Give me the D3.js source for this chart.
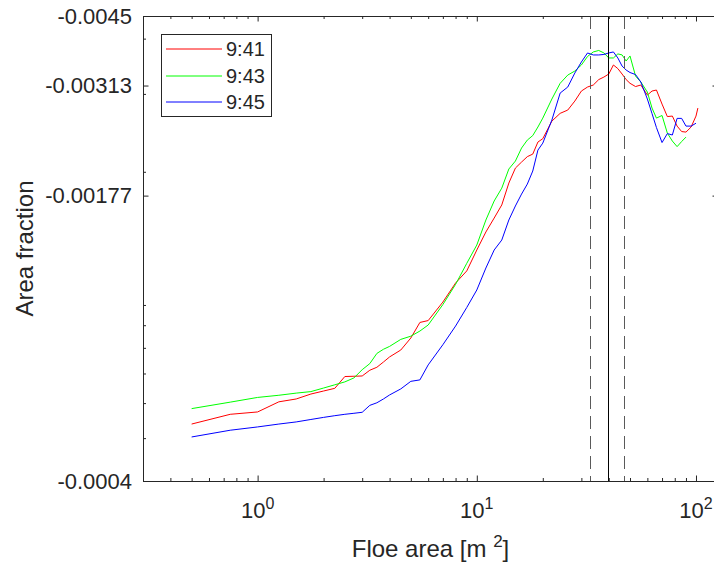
<!DOCTYPE html>
<html>
<head>
<meta charset="utf-8">
<script src="https://cdn.jsdelivr.net/npm/d3@7"></script>
<style>
  body { margin: 0; background: #fff; }
  text { font-family: "Liberation Sans", Arial, Helvetica, sans-serif; fill: #262626; }
</style>
</head>
<body>
<div id="chart"></div>
<script>
// Data
// =================================
const floeArea = [0.5, 0.75, 1, 1.25, 1.5, 1.75, 2, 2.25, 2.5, 2.75,
  3, 3.25, 3.5, 3.75, 4, 4.5, 5, 5.5, 6, 7,
  8, 9, 10, 11, 12, 13, 14, 15, 16, 17,
  18, 19, 20, 22, 24, 26, 28, 30, 32, 34,
  36, 38, 40, 42, 44, 46, 48, 50, 53, 56,
  60, 63, 66, 70, 74, 78, 82, 86, 90, 95,
  100, 102];

const frac941 = [0.000538, 0.000566, 0.000573, 0.000604, 0.000613, 0.000629, 0.000639, 0.000648, 0.000689, 0.000690,
  0.000691, 0.000712, 0.000723, 0.000743, 0.000763, 0.000791, 0.000842, 0.000913, 0.000922, 0.001015,
  0.001121, 0.001194, 0.001331, 0.001462, 0.001572, 0.001683, 0.001886, 0.002039, 0.002104, 0.002164,
  0.002193, 0.002335, 0.002376, 0.002604, 0.002711, 0.002758, 0.002890, 0.003045, 0.003109, 0.003142,
  0.003232, 0.003275, 0.003327, 0.003487, 0.003422, 0.003327, 0.003232, 0.003170, 0.003117, 0.003142,
  0.002982, 0.003045, 0.003061, 0.002845, 0.002666, 0.002673, 0.002537, 0.002466, 0.002459, 0.002525,
  0.002673, 0.002787];

const frac943 = [0.000583, 0.000603, 0.000618, 0.000625, 0.000632, 0.000637, 0.000649, 0.000660, 0.000670, 0.000684,
  0.000714, 0.000737, 0.000777, 0.000794, 0.000806, 0.000836, 0.000850, 0.000873, 0.000901, 0.001002,
  0.001113, 0.001242, 0.001366, 0.001556, 0.001718, 0.001837, 0.002029, 0.002115, 0.002263, 0.002359,
  0.002415, 0.002525, 0.002645, 0.002921, 0.003170, 0.003309, 0.003379, 0.003487, 0.003645, 0.003732,
  0.003761, 0.003713, 0.003617, 0.003617, 0.003694, 0.003675, 0.003560, 0.003655, 0.003292, 0.003192,
  0.003029, 0.002787, 0.002645, 0.002681, 0.002446, 0.002347, 0.002280, 0.002341, 0.002396, null,
  null, null];

const frac945 = [0.000503, 0.000521, 0.000530, 0.000538, 0.000544, 0.000551, 0.000557, 0.000562, 0.000566, 0.000569,
  0.000572, 0.000593, 0.000601, 0.000613, 0.000626, 0.000646, 0.000672, 0.000677, 0.000732, 0.000813,
  0.000896, 0.000987, 0.001081, 0.001212, 0.001331, 0.001402, 0.001556, 0.001674, 0.001781, 0.001876,
  0.002008, 0.002239, 0.002322, 0.002618, 0.003013, 0.003109, 0.003344, 0.003542, 0.003712, 0.003674,
  0.003674, 0.003684, 0.003712, 0.003732, 0.003617, 0.003468, 0.003397, 0.003353, 0.003318, 0.003192,
  0.002921, 0.002708, 0.002518, 0.002329, 0.002440, 0.002422, 0.002641, 0.002641, 0.002537, 0.002537,
  0.002575, null];

const seriesNames = ["9:41", "9:43", "9:45"];
const seriesValues = [frac941, frac943, frac945];
const seriesColors = ["#ff0000", "#00ff00", "#0000ff"];

const xMajorTicks = [1, 10, 100];
const xTickExponents = ["0", "1", "2"];
const xMinorTicks = [0.4, 0.5, 0.6, 0.7, 0.8, 0.9, 2, 3, 4, 5, 6, 7, 8, 9, 20, 30, 40, 50, 60, 70, 80, 90];

const yTickValues = [0.0045, 0.0031333, 0.0017667, 0.0004];
const yTickLabels = ["-0.0045", "-0.00313", "-0.00177", "-0.0004"];
const yMinorTicks = [0.0005, 0.0006, 0.0007, 0.0008, 0.0009, 0.001, 0.002, 0.003, 0.004];

// mean and +/- spread of floe area
const markerAreas = [32.8, 39.8, 46.8];

// Set up chart
// =================================
const svgWidth = 714;
const svgHeight = 567;

const margin = { top: 16, right: -4, bottom: 86, left: 143 };

const width = svgWidth - margin.left - margin.right;
const height = svgHeight - margin.top - margin.bottom;

const axisColor = "#262626";

const svg = d3.select("#chart")
  .append("svg")
  .attr("width", svgWidth)
  .attr("height", svgHeight)
  .style("display", "block");

const chartGroup = svg.append("g")
  .attr("transform", `translate(${margin.left}, ${margin.top})`);

// Scales
// =================================
const xScale = d3.scaleLog()
  .domain([0.3, 126])
  .range([0, width]);

const yScale = d3.scaleLog()
  .domain([0.0004, 0.0045])
  .range([height, 0]);

// Series
// =================================
chartGroup.append("clipPath")
  .attr("id", "plotClip")
  .append("rect")
  .attr("width", width)
  .attr("height", height);

const line = d3.line()
  .defined(d => d[1] != null)
  .x(d => xScale(d[0]))
  .y(d => yScale(d[1]));

const plotGroup = chartGroup.append("g").attr("clip-path", "url(#plotClip)");

seriesValues.forEach(function(values, i) {
  plotGroup.append("path")
    .datum(floeArea.map((a, j) => [a, values[j]]))
    .attr("fill", "none")
    .attr("stroke", seriesColors[i])
    .attr("stroke-width", 1)
    .attr("d", line);
});

plotGroup.selectAll(".marker")
  .data(markerAreas)
  .enter()
  .append("line")
  .attr("x1", d => Math.round(xScale(d)) + 0.5)
  .attr("x2", d => Math.round(xScale(d)) + 0.5)
  .attr("y1", 0)
  .attr("y2", height)
  .attr("stroke", (d, i) => i === 1 ? "#000" : "#5a5a5a")
  .attr("stroke-width", 1)
  .attr("stroke-dasharray", (d, i) => i === 1 ? null : "13,7");

// Axes
// =================================
function styleAxis(g) {
  g.select(".domain").attr("stroke", axisColor);
  g.selectAll(".tick line").attr("stroke", axisColor);
  g.attr("font-family", null).attr("font-size", null);
}

chartGroup.append("g")
  .attr("transform", `translate(0, ${height})`)
  .call(d3.axisBottom(xScale).tickValues(xMajorTicks).tickSize(-5.5).tickSizeOuter(0).tickFormat(() => ""))
  .call(styleAxis);

chartGroup.append("g")
  .attr("transform", `translate(0, ${height})`)
  .call(d3.axisBottom(xScale).tickValues(xMinorTicks).tickSize(-3).tickSizeOuter(0).tickFormat(() => ""))
  .call(styleAxis);

chartGroup.append("g")
  .call(d3.axisTop(xScale).tickValues(xMajorTicks).tickSize(-5.5).tickSizeOuter(0).tickFormat(() => ""))
  .call(styleAxis);

chartGroup.append("g")
  .call(d3.axisTop(xScale).tickValues(xMinorTicks).tickSize(-3).tickSizeOuter(0).tickFormat(() => ""))
  .call(styleAxis);

const leftAxis = d3.axisLeft(yScale)
  .tickValues(yTickValues)
  .tickSize(-5.5)
  .tickSizeOuter(0)
  .tickPadding(11)
  .tickFormat((d, i) => yTickLabels[i]);

chartGroup.append("g")
  .call(leftAxis)
  .call(styleAxis)
  .selectAll(".tick text")
  .attr("fill", axisColor)
  .style("font-size", "22px");

chartGroup.append("g")
  .call(d3.axisLeft(yScale).tickValues(yMinorTicks).tickSize(-3).tickSizeOuter(0).tickFormat(() => ""))
  .call(styleAxis);

chartGroup.append("g")
  .attr("transform", `translate(${width}, 0)`)
  .call(d3.axisRight(yScale).tickValues(yTickValues).tickSize(-5.5).tickSizeOuter(0).tickFormat(() => ""))
  .call(styleAxis);

// x tick labels as powers of ten
const xLabels = chartGroup.selectAll(".xlabel")
  .data(xMajorTicks)
  .enter()
  .append("text")
  .attr("class", "xlabel")
  .attr("x", d => xScale(d))
  .attr("y", height + 37)
  .attr("text-anchor", "middle")
  .style("font-size", "22px");

xLabels.append("tspan").text("10");
xLabels.append("tspan")
  .attr("dy", -9)
  .style("font-size", "16px")
  .text((d, i) => xTickExponents[i]);

// Axis labels
// =================================
const xTitle = chartGroup.append("text")
  .attr("x", width / 2)
  .attr("y", height + 76)
  .attr("text-anchor", "middle")
  .style("font-size", "24px");

xTitle.append("tspan").text("Floe area [m ");
xTitle.append("tspan").attr("dy", -10).style("font-size", "17px").text("2");
xTitle.append("tspan").attr("dy", 10).text("]");

chartGroup.append("text")
  .attr("transform", `translate(${33 - margin.left}, ${height / 2}) rotate(-90)`)
  .attr("text-anchor", "middle")
  .style("font-size", "24px")
  .text("Area fraction");

// Legend
// =================================
const legend = chartGroup.append("g")
  .attr("transform", "translate(18, 18)");

legend.append("rect")
  .attr("x", 0.5)
  .attr("y", 0.5)
  .attr("width", 110)
  .attr("height", 82)
  .attr("fill", "#fff")
  .attr("stroke", axisColor);

const legendRowY = [15, 42, 68];

seriesNames.forEach(function(name, i) {
  legend.append("line")
    .attr("x1", 5)
    .attr("x2", 61)
    .attr("y1", legendRowY[i])
    .attr("y2", legendRowY[i])
    .style("stroke", seriesColors[i])
    .attr("stroke-width", 1);

  legend.append("text")
    .attr("x", 65)
    .attr("y", legendRowY[i])
    .attr("dy", "0.36em")
    .style("font-size", "20px")
    .text(name);
});
</script>
</body>
</html>
